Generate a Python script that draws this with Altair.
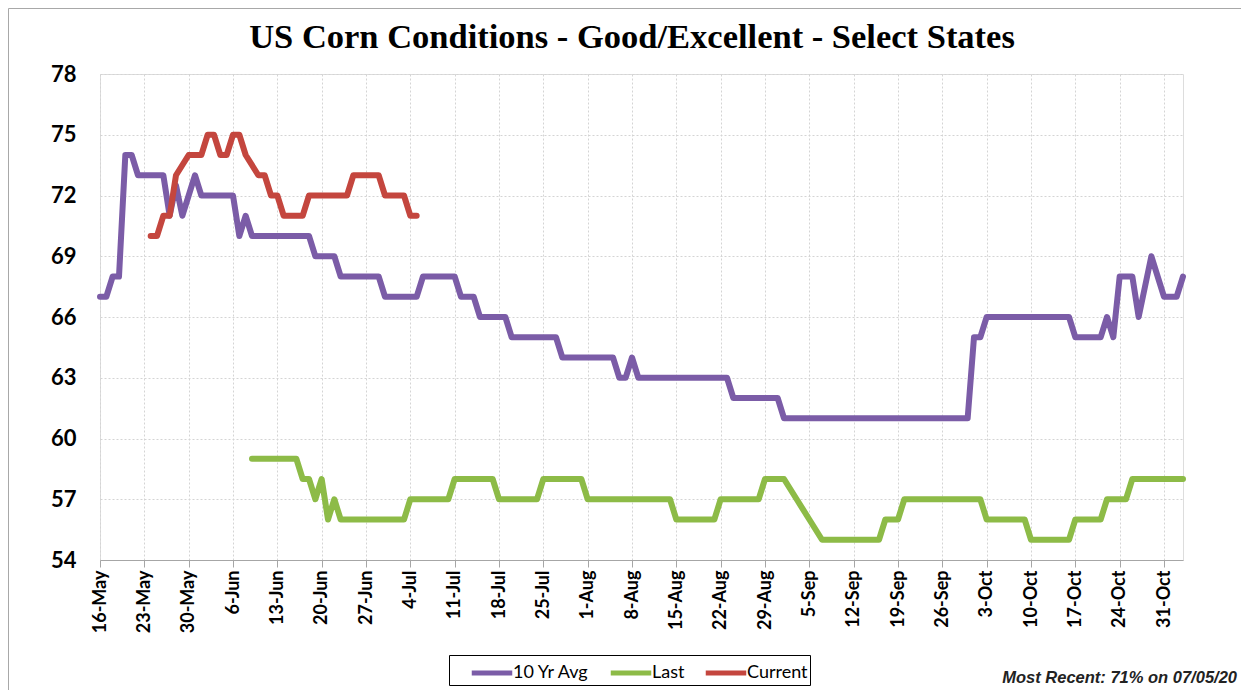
import altair as alt
import pandas as pd

title_text = "US Corn Conditions - Good/Excellent - Select States"
note_text = "Most Recent: 71% on 07/05/20"
series_names = ["10 Yr Avg", "Last", "Current"]
series_colors = ["#7B5CA7", "#8DBB47", "#C4463E"]

# 10 year average (vertices of the drawn line)
avg_dates = ["2020-05-16", "2020-05-17", "2020-05-18", "2020-05-19", "2020-05-20", "2020-05-21",
             "2020-05-22", "2020-05-26", "2020-05-27", "2020-05-28", "2020-05-29", "2020-05-31",
             "2020-06-01", "2020-06-06", "2020-06-07", "2020-06-08", "2020-06-09", "2020-06-18",
             "2020-06-19", "2020-06-22", "2020-06-23", "2020-06-29", "2020-06-30", "2020-07-05",
             "2020-07-06", "2020-07-11", "2020-07-12", "2020-07-14", "2020-07-15", "2020-07-19",
             "2020-07-20", "2020-07-27", "2020-07-28", "2020-08-05", "2020-08-06", "2020-08-07",
             "2020-08-08", "2020-08-09", "2020-08-23", "2020-08-24", "2020-08-31", "2020-09-01",
             "2020-09-30", "2020-10-01", "2020-10-02", "2020-10-03", "2020-10-16", "2020-10-17",
             "2020-10-21", "2020-10-22", "2020-10-23", "2020-10-24", "2020-10-26", "2020-10-27",
             "2020-10-29", "2020-10-31", "2020-11-02", "2020-11-03"]
avg_values = [67, 67, 68, 68, 74, 74,
              73, 73, 71, 72.5, 71, 73,
              72, 72, 70, 71, 70, 70,
              69, 69, 68, 68, 67, 67,
              68, 68, 67, 67, 66, 66,
              65, 65, 64, 64, 63, 63,
              64, 63, 63, 62, 62, 61,
              61, 65, 65, 66, 66, 65,
              65, 66, 65, 68, 68, 66,
              69, 67, 67, 68]

# Last year
last_dates = ["2020-06-09", "2020-06-16", "2020-06-17", "2020-06-18", "2020-06-19", "2020-06-20",
              "2020-06-21", "2020-06-22", "2020-06-23", "2020-07-03", "2020-07-04", "2020-07-10",
              "2020-07-11", "2020-07-17", "2020-07-18", "2020-07-24", "2020-07-25", "2020-07-31",
              "2020-08-01", "2020-08-14", "2020-08-15", "2020-08-21", "2020-08-22", "2020-08-28",
              "2020-08-29", "2020-09-01", "2020-09-03", "2020-09-05", "2020-09-07", "2020-09-16",
              "2020-09-17", "2020-09-19", "2020-09-20", "2020-10-02", "2020-10-03", "2020-10-09",
              "2020-10-10", "2020-10-16", "2020-10-17", "2020-10-21", "2020-10-22", "2020-10-25",
              "2020-10-26", "2020-11-03"]
last_values = [59, 59, 58, 58, 57, 58,
               56, 57, 56, 56, 57, 57,
               58, 58, 57, 57, 58, 58,
               57, 57, 56, 56, 57, 57,
               58, 58, 57, 56, 55, 55,
               56, 56, 57, 57, 56, 56,
               55, 55, 56, 56, 57, 57,
               58, 58]

# Current year
curr_dates = ["2020-05-24", "2020-05-25", "2020-05-26", "2020-05-27", "2020-05-28", "2020-05-30",
              "2020-06-01", "2020-06-02", "2020-06-03", "2020-06-04", "2020-06-05", "2020-06-06",
              "2020-06-07", "2020-06-08", "2020-06-10", "2020-06-11", "2020-06-12", "2020-06-13",
              "2020-06-14", "2020-06-17", "2020-06-18", "2020-06-24", "2020-06-25", "2020-06-29",
              "2020-06-30", "2020-07-03", "2020-07-04", "2020-07-05"]
curr_values = [70, 70, 71, 71, 73, 74,
               74, 75, 75, 74, 74, 75,
               75, 74, 73, 73, 72, 72,
               71, 71, 72, 72, 73, 73,
               72, 72, 71, 71]

x_tick_dates = ["2020-05-16", "2020-05-23", "2020-05-30", "2020-06-06", "2020-06-13", "2020-06-20",
                "2020-06-27", "2020-07-04", "2020-07-11", "2020-07-18", "2020-07-25", "2020-08-01",
                "2020-08-08", "2020-08-15", "2020-08-22", "2020-08-29", "2020-09-05", "2020-09-12",
                "2020-09-19", "2020-09-26", "2020-10-03", "2020-10-10", "2020-10-17", "2020-10-24",
                "2020-10-31"]
x_domain = ["2020-05-16", "2020-11-03"]
y_ticks = [54, 57, 60, 63, 66, 69, 72, 75, 78]


def ms(d):
    return int(pd.Timestamp(d, tz="UTC").value // 10**6)


rows = []
for name, ds, vs in [(series_names[0], avg_dates, avg_values),
                     (series_names[1], last_dates, last_values),
                     (series_names[2], curr_dates, curr_values)]:
    for d, v in zip(ds, vs):
        rows.append({"date": d, "value": v, "series": name})
df = pd.DataFrame(rows)

grid_color = "#d4d4d4"
frame_color = "#a8a8a8"

x_enc = alt.X(
    "date:T",
    scale=alt.Scale(type="utc", domain=[ms(d) for d in x_domain]),
    axis=alt.Axis(
        values=[ms(d) for d in x_tick_dates], format="%-d-%b", title=None,
        labelAngle=270, labelFont="Lato", labelFontSize=18, labelFontWeight="bold",
        labelColor="black", labelPadding=3, tickSize=7, tickColor="#a6a6a6",
        domainColor="#a6a6a6", grid=True, gridColor=grid_color, gridDash=[2, 2],
        labelOverlap=False, labelFlush=False,
    ),
)
y_enc = alt.Y(
    "value:Q",
    scale=alt.Scale(domain=[54, 78], nice=False, zero=False),
    axis=alt.Axis(
        values=y_ticks, title=None, labelFont="Lato", labelFontSize=22,
        labelFontWeight="bold", labelColor="black", labelPadding=24, ticks=False,
        domain=False, grid=True, gridColor=grid_color, gridDash=[2, 2],
    ),
)

lines = alt.Chart(df).mark_line(
    strokeWidth=6, strokeCap="round", strokeJoin="round"
).encode(
    x=x_enc,
    y=y_enc,
    color=alt.Color(
        "series:N",
        sort=series_names,
        scale=alt.Scale(domain=series_names, range=series_colors),
        legend=alt.Legend(
            title=None, orient="none", legendX=349, legendY=581, direction="horizontal",
            symbolType="M-1.5,0H1.5", symbolSize=729, symbolStrokeWidth=5,
            labelFont="Lato", labelFontSize=18, labelColor="black", labelOffset=5,
            columnPadding=0, padding=2, symbolOffset=25,
            strokeColor="black",
        ),
    ),
    order=alt.Order("series:N"),
)

title = alt.Chart(pd.DataFrame({"t": [title_text]})).mark_text(
    align="center", baseline="alphabetic", font="Liberation Serif", fontSize=34.5,
    fontWeight="bold", color="black",
).encode(text="t:N", x=alt.value(532), y=alt.value(-26))

note = alt.Chart(pd.DataFrame({"t": [note_text]})).mark_text(
    align="right", baseline="alphabetic", font="Liberation Sans", fontSize=16.5,
    fontStyle="italic", fontWeight="bold", color="#222222",
).encode(text="t:N", x=alt.value(1137), y=alt.value(609))

frame_top = alt.Chart(pd.DataFrame({"t": [0]})).mark_rule(
    color=frame_color, strokeWidth=1
).encode(x=alt.value(-91.5), x2=alt.value(1141), y=alt.value(-65.5))
frame_left = alt.Chart(pd.DataFrame({"t": [0]})).mark_rule(
    color=frame_color, strokeWidth=1
).encode(x=alt.value(-91.5), y=alt.value(-65.5), y2=alt.value(616))

chart = alt.layer(frame_top, frame_left, lines, title, note).properties(
    width=1083,
    height=486,
    padding={"left": 92, "top": 66, "right": 58, "bottom": 130},
    autosize=alt.AutoSizeParams(type="none"),
).configure_view(
    stroke="#bfbfbf", strokeWidth=1
).configure_legend(
    strokeWidth=2
).configure(background="white")

chart.save("out.html", embed_options={"renderer": "svg", "actions": False})
